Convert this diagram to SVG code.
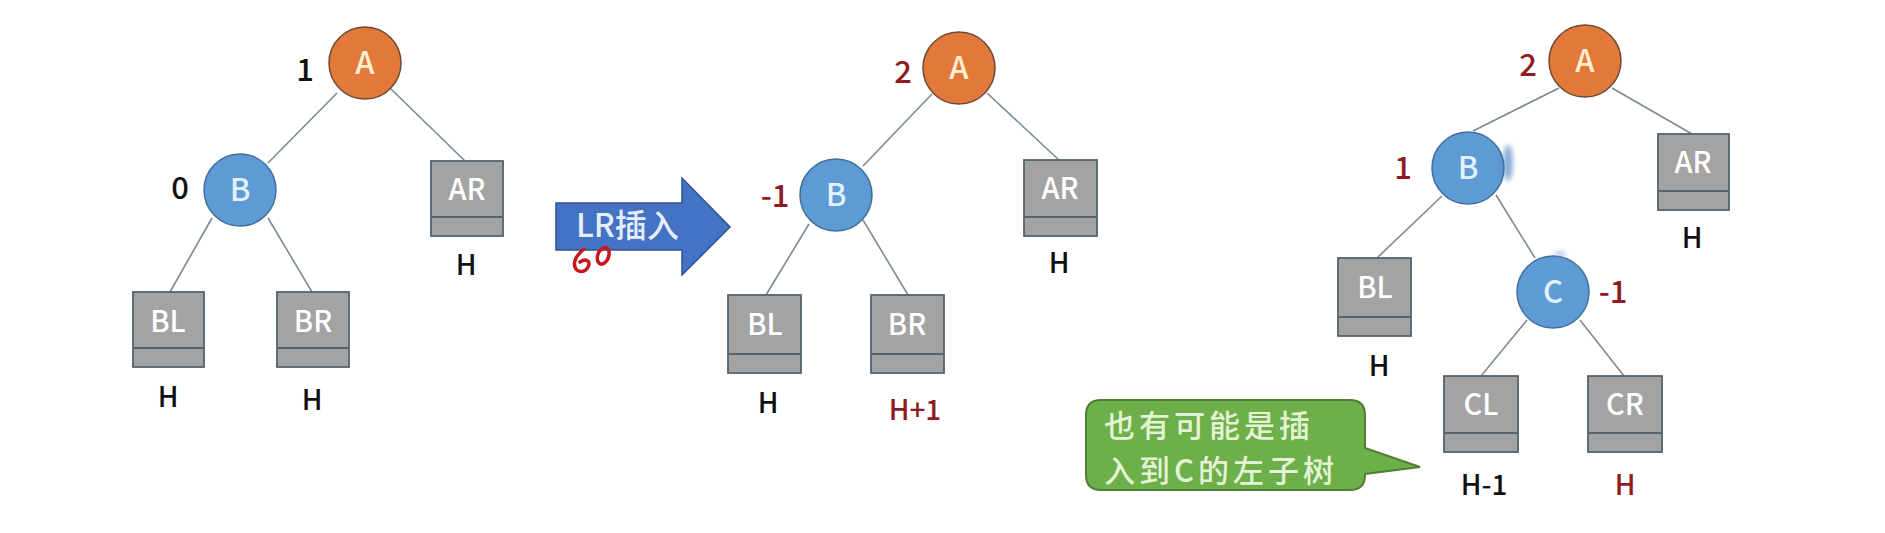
<svg xmlns="http://www.w3.org/2000/svg" width="1885" height="533" viewBox="0 0 1885 533">
<style>
text{font-family:"Noto Sans CJK SC","Noto Sans",sans-serif;font-weight:500}
.ln{stroke:#7d8a94;stroke-width:1.6;fill:none}
.a{fill:#E2783A;stroke:#6b4a35;stroke-width:1.5}
.b{fill:#5E9AD3;stroke:#3f6f99;stroke-width:1.5}
.nt{font-size:31px;text-anchor:middle}
.at{fill:#FFF1CF}
.bt{fill:#E3F1FA}
.box{fill:#A3A3A3;stroke:#53646f;stroke-width:1.8}
.bx{font-size:29px;fill:#fff;text-anchor:middle}
.lb{font-size:28px;fill:#111;text-anchor:middle}
.rd{fill:#8E1B22}
.bf{font-size:31px;text-anchor:middle}
.co{font-size:31px;fill:#E4F3D6;letter-spacing:4px}
</style>
<defs>
<filter id="blur" x="-50%" y="-50%" width="200%" height="200%"><feGaussianBlur stdDeviation="2.5"/></filter>
</defs>
<rect width="1885" height="533" fill="#fff"/>
<g id="connectors">
<line class="ln" x1="337" y1="93" x2="268" y2="163"/>
<line class="ln" x1="391" y1="89" x2="465" y2="161"/>
<line class="ln" x1="212" y1="218" x2="170" y2="292"/>
<line class="ln" x1="268" y1="218" x2="312" y2="292"/>
<line class="ln" x1="932" y1="94" x2="863" y2="166"/>
<line class="ln" x1="987" y1="93" x2="1060" y2="161"/>
<line class="ln" x1="809" y1="224" x2="766" y2="295"/>
<line class="ln" x1="863" y1="220" x2="908" y2="295"/>
<line class="ln" x1="1559" y1="88" x2="1473" y2="131"/>
<line class="ln" x1="1612" y1="88" x2="1692" y2="134"/>
<line class="ln" x1="1442" y1="196" x2="1377" y2="258"/>
<line class="ln" x1="1496" y1="195" x2="1535" y2="258"/>
<line class="ln" x1="1527" y1="320" x2="1481" y2="376"/>
<line class="ln" x1="1580" y1="320" x2="1624" y2="376"/>
</g>
<!-- Tree 1 -->
<g id="t1-A"><circle class="a" cx="365" cy="63" r="36"/><text class="nt at" x="365" y="74">A</text><text class="bf" x="305" y="81" fill="#111">1</text></g>
<g id="t1-B"><circle class="b" cx="240" cy="190" r="36"/><text class="nt bt" x="240" y="201">B</text><text class="bf" x="180" y="199" fill="#111">0</text></g>
<g id="t1-AR"><rect class="box" x="431" y="161" width="72" height="75"/><line class="box" x1="431" y1="217" x2="503" y2="217"/><text class="bx" x="467" y="200">AR</text><text class="lb" x="466" y="275">H</text></g>
<g id="t1-BL"><rect class="box" x="133" y="292" width="71" height="75"/><line class="box" x1="133" y1="348" x2="204" y2="348"/><text class="bx" x="168" y="332">BL</text><text class="lb" x="168" y="407">H</text></g>
<g id="t1-BR"><rect class="box" x="277" y="292" width="72" height="75"/><line class="box" x1="277" y1="348" x2="349" y2="348"/><text class="bx" x="313" y="332">BR</text><text class="lb" x="312" y="410">H</text></g>
<!-- Arrow -->
<g id="arrow">
<path d="M556,203 H682 V178 L730,227 L682,275 V250 H556 Z" fill="#4472C4" stroke="#2F528F" stroke-width="1.5"/>
<text x="576" y="237" font-size="32" fill="#E8EEF8">LR插入</text>
<path d="M584,249 C578,254 573,261 575,267 C577,273 585,273 588,267 C591,261 586,258 580,262" fill="none" stroke="#C8161D" stroke-width="3.5" stroke-linecap="round"/>
<path d="M602,249 C597,252 596,260 599,263 C602,266 608,262 609,255 C610,248 605,246 602,249" fill="none" stroke="#C8161D" stroke-width="3.5" stroke-linecap="round"/>
</g>
<!-- Tree 2 -->
<g id="t2-A"><circle class="a" cx="959" cy="68" r="36"/><text class="nt at" x="959" y="79">A</text><text class="bf rd" x="903" y="83">2</text></g>
<g id="t2-B"><circle class="b" cx="836" cy="195" r="36"/><text class="nt bt" x="836" y="206">B</text><text class="bf rd" x="775" y="207">-1</text></g>
<g id="t2-AR"><rect class="box" x="1024" y="160" width="73" height="76"/><line class="box" x1="1024" y1="217" x2="1097" y2="217"/><text class="bx" x="1060" y="199">AR</text><text class="lb" x="1059" y="273">H</text></g>
<g id="t2-BL"><rect class="box" x="728" y="295" width="73" height="78"/><line class="box" x1="728" y1="354" x2="801" y2="354"/><text class="bx" x="765" y="335">BL</text><text class="lb" x="768" y="413">H</text></g>
<g id="t2-BR"><rect class="box" x="871" y="295" width="73" height="78"/><line class="box" x1="871" y1="354" x2="944" y2="354"/><text class="bx" x="907" y="335">BR</text><text class="lb rd" x="915" y="420">H+1</text></g>
<!-- Tree 3 -->
<g id="t3-A"><circle class="a" cx="1585" cy="61" r="36"/><text class="nt at" x="1585" y="72">A</text><text class="bf rd" x="1528" y="76">2</text></g>
<g id="t3-B"><circle class="b" cx="1468" cy="168" r="36"/><text class="nt bt" x="1468" y="179">B</text><text class="bf rd" x="1403" y="179">1</text>
<ellipse cx="1508" cy="163" rx="5" ry="18" fill="#3f78c0" opacity="0.6" filter="url(#blur)"/></g>
<g id="t3-AR"><rect class="box" x="1658" y="134" width="71" height="76"/><line class="box" x1="1658" y1="191" x2="1729" y2="191"/><text class="bx" x="1693" y="173">AR</text><text class="lb" x="1692" y="248">H</text></g>
<g id="t3-BL"><rect class="box" x="1338" y="258" width="73" height="78"/><line class="box" x1="1338" y1="317" x2="1411" y2="317"/><text class="bx" x="1375" y="298">BL</text><text class="lb" x="1379" y="376">H</text></g>
<g id="t3-C"><circle class="b" cx="1553" cy="292" r="36"/><text class="nt bt" x="1553" y="303">C</text><text class="bf rd" x="1613" y="303">-1</text>
<ellipse cx="1560" cy="254" rx="6" ry="3" fill="#6f9fd0" opacity="0.5" filter="url(#blur)"/></g>
<g id="t3-CL"><rect class="box" x="1444" y="376" width="74" height="76"/><line class="box" x1="1444" y1="433" x2="1518" y2="433"/><text class="bx" x="1481" y="415">CL</text><text class="lb" x="1484" y="495">H-1</text></g>
<g id="t3-CR"><rect class="box" x="1588" y="376" width="74" height="76"/><line class="box" x1="1588" y1="433" x2="1662" y2="433"/><text class="bx" x="1625" y="415">CR</text><text class="lb rd" x="1625" y="495">H</text></g>
<!-- Callout -->
<g id="callout">
<path d="M1101,400 H1350 Q1365,400 1365,415 V448 L1420,467 L1365,474 V475 Q1365,490 1350,490 H1101 Q1086,490 1086,475 V415 Q1086,400 1101,400 Z" fill="#6DB04A" stroke="#4E7F33" stroke-width="2"/>
<text class="co"><tspan x="1104" y="437">也有可能是插</tspan><tspan x="1104" y="482">入到C的左子树</tspan></text>
</g>
</svg>
